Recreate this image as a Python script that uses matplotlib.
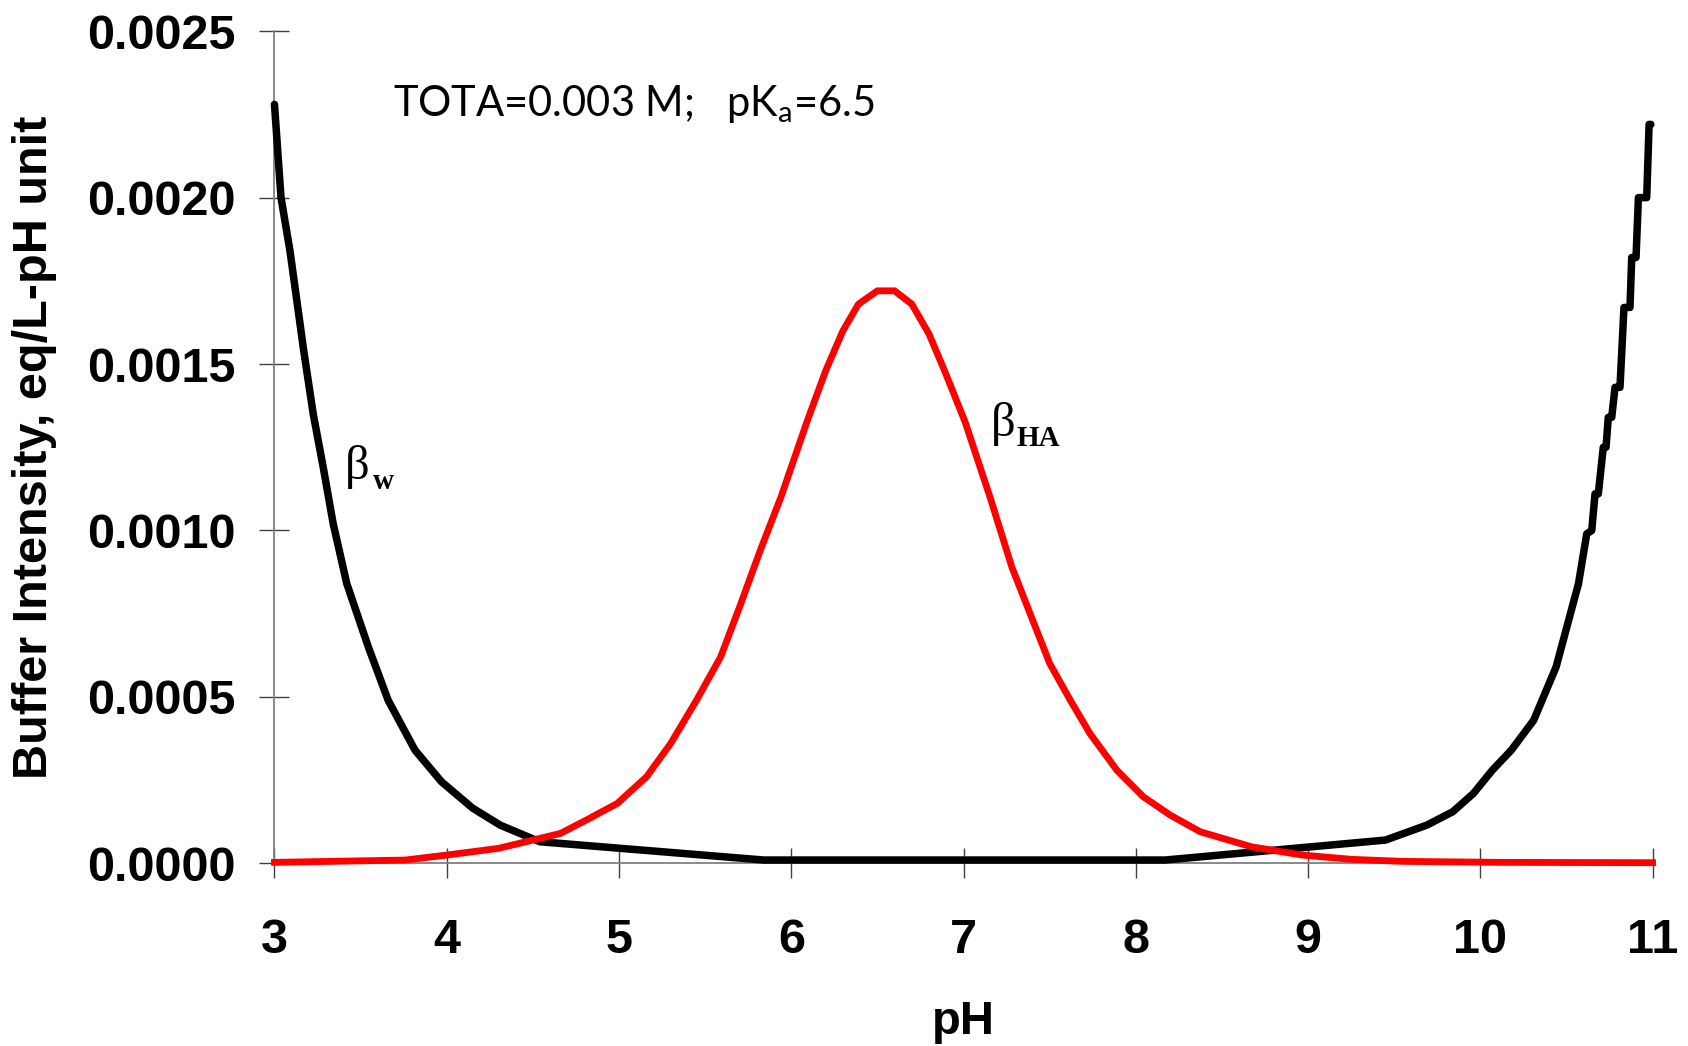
import matplotlib
matplotlib.use("Agg")
import matplotlib.pyplot as plt

# black curve: water buffer intensity
ph_w = [3.00, 3.038, 3.09, 3.138, 3.167, 3.225, 3.283, 3.341, 3.42, 3.545, 3.66,
        3.816, 3.97, 4.15, 4.31, 4.54, 5.84, 8.17, 9.45, 9.69, 9.84, 9.96, 10.07,
        10.18, 10.31, 10.44, 10.57, 10.618, 10.647, 10.666, 10.685, 10.714, 10.730,
        10.743, 10.763, 10.782, 10.811, 10.834, 10.869, 10.879, 10.904, 10.918,
        10.966, 10.980, 10.99]
beta_w = [0.00228, 0.00200, 0.00184, 0.00166, 0.00155, 0.00135, 0.00119, 0.00102,
          0.00084, 0.00065, 0.00049, 0.00034, 0.000245, 0.000166, 0.000115, 0.000065,
          0.00001, 0.00001, 0.00007, 0.000115, 0.000155, 0.00021, 0.00028, 0.00034,
          0.00043, 0.00059, 0.00084, 0.00099, 0.00100, 0.00111, 0.00111, 0.00125,
          0.00125, 0.00134, 0.00134, 0.00143, 0.00143, 0.00167, 0.00167, 0.00182,
          0.00182, 0.00200, 0.00200, 0.00222, 0.00222]

# red curve: acid buffer intensity
ph_ha = [3.00, 3.76, 4.00, 4.30, 4.54, 4.66, 4.81, 4.99, 5.16, 5.30, 5.45, 5.59,
         5.70, 5.82, 5.94, 6.09, 6.20, 6.30, 6.39, 6.50, 6.60, 6.70, 6.80, 6.89,
         7.01, 7.154, 7.28, 7.386, 7.50, 7.62, 7.734, 7.89, 8.044, 8.20, 8.374,
         8.67, 8.965, 9.255, 9.55, 10.13, 11.0]
beta_ha = [0.000003, 0.00001, 0.000025, 0.000045, 0.000075, 0.00009, 0.00013,
           0.00018, 0.00026, 0.00036, 0.00049, 0.00062, 0.00077, 0.00094, 0.00110,
           0.001325, 0.00148, 0.00160, 0.00168, 0.00172, 0.00172, 0.00168, 0.00159,
           0.00148, 0.001325, 0.00110, 0.000891, 0.000751, 0.000601, 0.00049,
           0.00039, 0.00028, 0.00020, 0.000145, 0.000095, 0.00005, 0.000025,
           0.000012, 0.000006, 0.000003, 0.000002]

x_ticks = [3, 4, 5, 6, 7, 8, 9, 10, 11]
y_ticks = [0.0, 0.0005, 0.0010, 0.0015, 0.0020, 0.0025]
y_ticklabels = ["0.0000", "0.0005", "0.0010", "0.0015", "0.0020", "0.0025"]

plt.rcParams['mathtext.fontset'] = 'custom'
plt.rcParams['mathtext.rm'] = 'Lato'

fig = plt.figure(figsize=(16.88, 10.46), dpi=100)
ax = fig.add_axes([0.1626, 0.1746, 0.9790 - 0.1626, 0.9702 - 0.1746])

ax.plot(ph_w, beta_w, color='black', lw=5.4, clip_on=False, zorder=3,
        solid_joinstyle='round', solid_capstyle='round')
ax.plot(ph_ha, beta_ha, color='#ff0000', lw=4.9, clip_on=False, zorder=4,
        solid_joinstyle='round')

ax.set_xlim(3, 11)
ax.set_ylim(0, 0.0025)
ax.set_xticks(x_ticks)
ax.set_yticks(y_ticks)
ax.set_yticklabels(y_ticklabels)

for s in ['top', 'right']:
    ax.spines[s].set_visible(False)
for s in ['left', 'bottom']:
    ax.spines[s].set_color('#808080')
    ax.spines[s].set_linewidth(1.3)

ax.tick_params(direction='inout', length=22, width=1.0, color='#404040')
ax.tick_params(axis='y', pad=17)
ax.tick_params(axis='x', pad=28)
for lab in ax.get_xticklabels() + ax.get_yticklabels():
    lab.set_fontfamily('Liberation Sans')
    lab.set_fontweight('bold')
    lab.set_fontsize(35)

ax.set_xlabel('pH', fontsize=34, fontweight='bold', family='Liberation Sans', labelpad=27)
ax.set_ylabel('Buffer Intensity, eq/L-pH unit', fontsize=35, fontweight='bold',
              family='Liberation Sans', labelpad=22)

ax.text(3.688, 0.002281, r'TOTA=0.003 M;   pK$_{\mathrm{a}}$=6.5', fontsize=30,
        family='Lato', ha='left', va='center')

ax.text(3.409, 0.001155, 'β', fontsize=35, family='Liberation Serif', ha='left', va='baseline')
ax.text(3.572, 0.001125, 'w', fontsize=21, family='Liberation Serif', fontweight='bold',
        ha='left', va='baseline')
ax.text(7.158, 0.001284, 'β', fontsize=35, family='Liberation Serif', ha='left', va='baseline')
ax.text(7.309, 0.001254, 'HA', fontsize=21, family='Liberation Serif', fontweight='bold',
        ha='left', va='baseline')

fig.savefig('out.png', dpi=100)
